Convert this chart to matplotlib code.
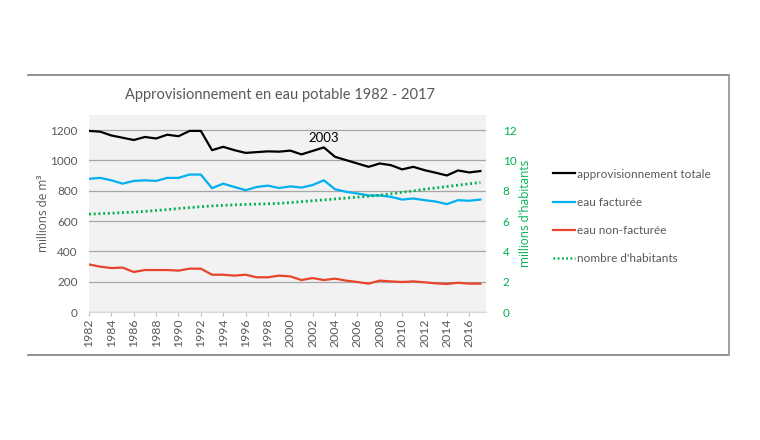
import numpy as np
import matplotlib
matplotlib.use("Agg")
import matplotlib.pyplot as plt
from matplotlib.lines import Line2D

plt.rcParams['font.family'] = ['Lato', 'DejaVu Sans']

years = list(range(1982, 2018))

# approvisionnement totale (millions de m3)
total = [1195, 1190, 1165, 1150, 1135, 1155, 1145, 1170, 1160, 1195,
         1195, 1068, 1090, 1068, 1050, 1055, 1060, 1058, 1065, 1040,
         1063, 1086, 1024, 1002, 980, 958, 980, 969, 941, 958,
         936, 919, 901, 934, 921, 930]
# eau facturée
facturee = [879, 885, 869, 847, 865, 869, 865, 885, 885, 907,
            907, 817, 847, 825, 804, 825, 834, 818, 829, 821,
            838, 869, 810, 793, 782, 769, 769, 760, 742, 749,
            738, 729, 712, 738, 734, 742]
# eau non-facturée
non_facturee = [314, 299, 290, 293, 264, 277, 277, 277, 273, 286,
                286, 246, 246, 240, 246, 229, 229, 240, 235, 211,
                224, 211, 220, 207, 198, 187, 207, 202, 198, 202,
                196, 189, 185, 193, 187, 187]
# nombre d'habitants (millions)
habitants = [6.46, 6.49, 6.52, 6.56, 6.59, 6.64, 6.70, 6.76, 6.83, 6.89,
             6.95, 7.00, 7.04, 7.07, 7.10, 7.12, 7.14, 7.17, 7.22, 7.28,
             7.34, 7.40, 7.46, 7.52, 7.58, 7.64, 7.71, 7.80, 7.90, 7.99,
             8.10, 8.19, 8.28, 8.37, 8.46, 8.55]

tick_years = list(range(1982, 2017, 2))

grey_txt = '#595959'
green = '#00B050'
blue = '#00B0F0'
red = '#E8452A'
dots = (0, (0.7, 1.0))

fig = plt.figure(figsize=(7.6, 4.4), dpi=100)
ax = fig.add_axes([89 / 760, 1 - 312 / 440, (486 - 89) / 760, (312 - 115) / 440])
ax.set_facecolor('#F2F2F2')

ax.plot(years, total, color='black', lw=1.6, zorder=3)
ax.plot(years, facturee, color=blue, lw=1.6, zorder=3)
ax.plot(years, non_facturee, color=red, lw=1.6, zorder=3)

ax.set_xlim(1982, 2017.5)
ax.set_ylim(0, 1300)
ax.set_yticks(range(0, 1201, 200))
ax.set_xticks(tick_years)
ax.set_xticklabels([str(y) for y in tick_years], rotation=90, fontsize=8.8, color=grey_txt)
ax.tick_params(axis='y', length=0, labelsize=8.5, labelcolor=grey_txt, pad=8)
ax.tick_params(axis='x', length=3, color='#BFBFBF', pad=2)
ax.grid(axis='y', color='#A6A6A6', lw=0.9)
ax.set_axisbelow(True)
for s in ['top', 'right', 'left']:
    ax.spines[s].set_visible(False)
ax.spines['bottom'].set_color('#D9D9D9')
ax.set_ylabel('millions de m³', fontsize=8.5, color=grey_txt, labelpad=0,
              family=['Open Sans', 'DejaVu Sans'])

ax.text(2003, 1150, '2003', fontsize=9.5, color='black', ha='center', va='center')

ax2 = ax.twinx()
ax2.plot(years, habitants, color=green, lw=2.0, linestyle=dots,
         dash_capstyle='butt', zorder=3)
ax2.set_ylim(0, 13)
ax2.set_yticks(range(0, 13, 2))
ax2.tick_params(axis='y', length=0, labelsize=8.5, labelcolor=green, pad=12)
for s in ax2.spines.values():
    s.set_visible(False)
ax2.set_ylabel("millions d'habitants", fontsize=8.5, color=green, labelpad=2,
               family=['Open Sans', 'DejaVu Sans'])

fig.text(280 / 760, 1 - 95 / 440, 'Approvisionnement en eau potable 1982 - 2017',
         fontsize=10.5, color=grey_txt, ha='center', va='center')

handles = [Line2D([], [], color='black', lw=1.6),
           Line2D([], [], color=blue, lw=1.6),
           Line2D([], [], color=red, lw=1.6),
           Line2D([], [], color=green, lw=1.8, linestyle=dots, dash_capstyle='butt')]
labels = ['approvisionnement totale', 'eau facturée', 'eau non-facturée', "nombre d'habitants"]
fig.legend(handles, labels, loc='upper left', bbox_to_anchor=(542 / 760, 1 - 158 / 440),
           frameon=False, fontsize=8.5, labelcolor=grey_txt, handlelength=1.9,
           handletextpad=0.15, labelspacing=1.45)

# chart frame
fig.add_artist(Line2D([28 / 760, 729 / 760], [1 - 75 / 440, 1 - 75 / 440],
                      color='#7F7F7F', lw=1.2, transform=fig.transFigure))
fig.add_artist(Line2D([28 / 760, 729 / 760], [1 - 355 / 440, 1 - 355 / 440],
                      color='#7F7F7F', lw=1.2, transform=fig.transFigure))
fig.add_artist(Line2D([729 / 760, 729 / 760], [1 - 75 / 440, 1 - 355 / 440],
                      color='#9F9F9F', lw=1.4, transform=fig.transFigure))

fig.savefig('out.png', dpi=100, facecolor='white')
